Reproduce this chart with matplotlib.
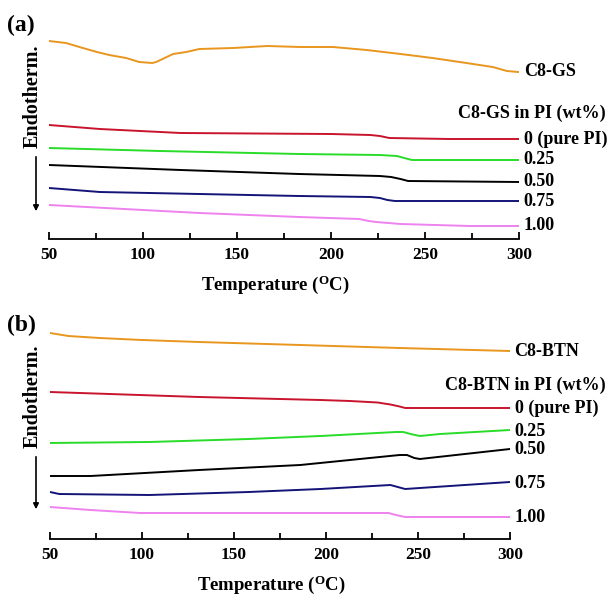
import matplotlib
matplotlib.use("Agg")
import matplotlib.pyplot as plt
from matplotlib.patches import FancyArrowPatch
from matplotlib.ticker import MultipleLocator

plt.rcParams["font.family"] = ["Liberation Serif", "DejaVu Serif"]
plt.rcParams["mathtext.fontset"] = "custom"
plt.rcParams["mathtext.rm"] = "Liberation Serif:bold"

# DSC traces, heat flow in arbitrary units (offset for clarity)
# panel (a): C8-GS
a_gs_t = [50, 59, 68, 75.5, 82, 91, 98, 105, 107, 116, 123, 130, 148, 166,
          183.5, 201, 219, 237, 254, 272, 286, 293.6, 299.5]
a_gs_y = [19.8, 19.6, 19.1, 18.7, 18.4, 18.1, 17.7, 17.6, 17.7, 18.5, 18.7,
          19.0, 19.1, 19.3, 19.2, 19.2, 18.9, 18.5, 18.1, 17.6, 17.2, 16.8, 16.7]
a_pi_t = [50, 77, 120, 200, 221, 226, 231, 263, 300]
a_pi_y = [11.4, 11.0, 10.6, 10.5, 10.4, 10.3, 10.1, 10.0, 10.0]
a_025_t = [50, 109, 183, 226, 235, 239, 243, 300]
a_025_y = [9.1, 8.8, 8.5, 8.4, 8.3, 8.1, 7.9, 7.9]
a_050_t = [50, 120, 183, 226, 232, 237, 241, 300]
a_050_y = [7.4, 6.9, 6.5, 6.3, 6.2, 6.0, 5.8, 5.7]
a_075_t = [50, 77, 130, 183, 221, 226, 230, 234, 300]
a_075_y = [5.1, 4.7, 4.5, 4.3, 4.2, 4.1, 3.9, 3.8, 3.8]
a_100_t = [50, 130, 183, 215, 220, 224, 237, 274, 300]
a_100_y = [3.4, 2.6, 2.2, 2.0, 1.8, 1.7, 1.5, 1.3, 1.3]

# panel (b): C8-BTN
b_btn_t = [50, 60, 77, 100, 131, 186, 240, 300]
b_btn_y = [20.6, 20.3, 20.1, 19.9, 19.7, 19.4, 19.1, 18.8]
b_pi_t = [50, 131, 197, 213, 228, 235, 240, 243, 300]
b_pi_y = [14.7, 14.2, 13.9, 13.8, 13.65, 13.45, 13.25, 13.1, 13.1]
b_025_t = [50, 104, 158, 197, 238, 242, 246, 251, 262, 300]
b_025_y = [9.6, 9.7, 10.0, 10.3, 10.7, 10.7, 10.5, 10.3, 10.5, 10.9]
b_050_t = [50, 72, 131, 186, 240, 244, 248, 251, 300]
b_050_y = [6.3, 6.3, 6.9, 7.4, 8.4, 8.4, 8.1, 8.0, 9.0]
b_075_t = [50, 55, 104, 158, 197, 235, 239, 243, 251, 300]
b_075_y = [4.7, 4.5, 4.4, 4.7, 5.0, 5.4, 5.2, 5.0, 5.1, 5.7]
b_100_t = [50, 72, 99, 186, 234, 238, 243, 300]
b_100_y = [3.2, 2.9, 2.6, 2.6, 2.6, 2.4, 2.2, 2.2]

colors = ["#E8961E", "#C8142D", "#28DC28", "#000000", "#141478", "#EE82EE"]
conc_labels = ["0 (pure PI)", "0.25", "0.50", "0.75", "1.00"]

fig = plt.figure(figsize=(6.09, 5.95), dpi=100)
W, H = 609, 595


def panel(rect_px, traces, name, letter, head_px, label_ys, ylab_span, arrow_span):
    x0, x1, ytop, ybot = rect_px
    ax = fig.add_axes([x0 / W, 1 - ybot / H, (x1 - x0) / W, (ybot - ytop) / H])
    for (t, y), c in zip(traces, colors):
        ax.plot(t, y, color=c, lw=1.4, solid_joinstyle="round")
    ax.set_xlim(50, 300)
    ax.set_ylim(0, 21)
    for s in ["left", "right", "top"]:
        ax.spines[s].set_visible(False)
    ax.spines["bottom"].set_linewidth(1.3)
    ax.set_yticks([])
    ax.xaxis.set_major_locator(MultipleLocator(50))
    ax.xaxis.set_minor_locator(MultipleLocator(25))
    ax.tick_params(axis="x", which="major", direction="in", length=5, width=1.3,
                   labelsize=12.5, pad=6)
    ax.tick_params(axis="x", which="minor", direction="in", length=4, width=1.3)
    for lb in ax.get_xticklabels():
        lb.set_fontweight("bold")
    ax.set_xlabel(r"Temperature ($\mathregular{^O}$C)", fontsize=13.5,
                  fontweight="bold")
    ax.xaxis.set_label_coords(0.482, -0.165)
    # right-hand labels
    lx = 302.5
    ax.text(lx, traces[0][1][-1], name, fontsize=13, fontweight="bold",
            va="center", ha="left", clip_on=False)
    fig.text(606 / W, 1 - head_px / H, name + " in PI (wt%)", fontsize=13,
             fontweight="bold", va="center", ha="right")
    for lab, yy in zip(conc_labels, label_ys):
        ax.text(lx, yy, lab, fontsize=13, fontweight="bold", va="center",
                ha="left", clip_on=False)
    fig.text(7 / W, 1 - (ytop - 4) / H, letter, fontsize=17, fontweight="bold",
             va="center", ha="left")
    fig.text(33 / W, 1 - sum(ylab_span) / 2 / H, "Endotherm.", rotation=90,
             fontsize=14.5, fontweight="bold", va="center", ha="center")
    fig.patches.append(FancyArrowPatch(
        (36 / W, 1 - arrow_span[0] / H), (36 / W, 1 - arrow_span[1] / H),
        transform=fig.transFigure, arrowstyle="-|>", mutation_scale=8,
        lw=1.2, color="black"))
    return ax


panel((49, 519, 29, 239),
      [(a_gs_t, a_gs_y), (a_pi_t, a_pi_y), (a_025_t, a_025_y),
       (a_050_t, a_050_y), (a_075_t, a_075_y), (a_100_t, a_100_y)],
      "C8-GS", "(a)", 113, [10.0, 7.9, 5.8, 3.7, 1.3], (43, 150), (154, 214))

panel((50, 510, 329, 539),
      [(b_btn_t, b_btn_y), (b_pi_t, b_pi_y), (b_025_t, b_025_y),
       (b_050_t, b_050_y), (b_075_t, b_075_y), (b_100_t, b_100_y)],
      "C8-BTN", "(b)", 385, [13.1, 10.8, 9.0, 5.6, 2.1], (343, 450), (454, 512))

fig.savefig("out.png", dpi=100)
